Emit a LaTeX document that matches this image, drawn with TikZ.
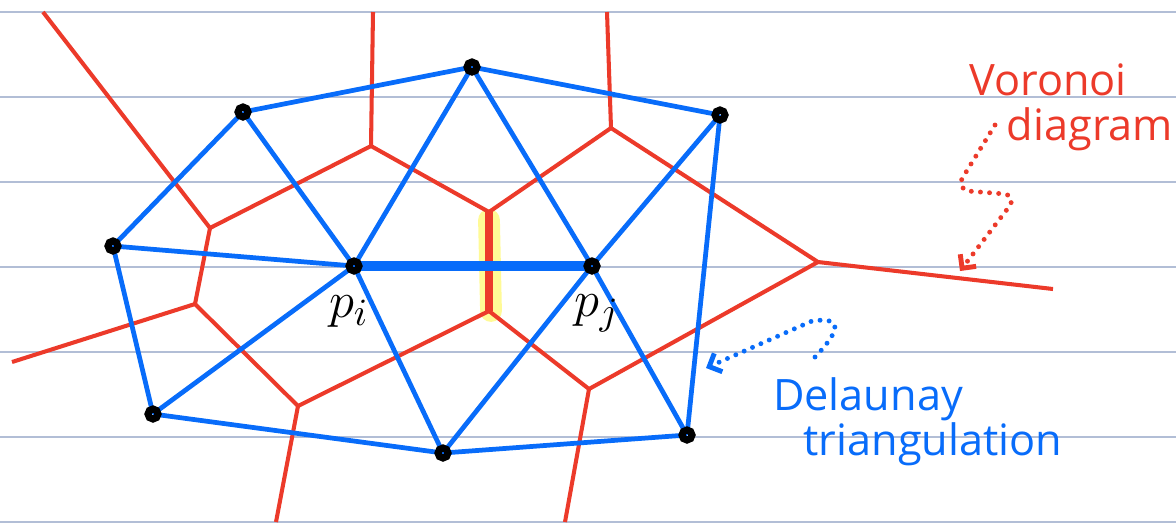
\documentclass[tikz,border=0pt]{standalone}
\usepackage{fontspec}
\setmainfont{Open Sans}
\usetikzlibrary{arrows.meta,positioning}

\definecolor{vorred}{RGB}{236,58,42}
\definecolor{delblue}{RGB}{8,108,250}
\definecolor{ruled}{RGB}{178,190,214}
\definecolor{marker}{RGB}{255,250,150}

\begin{document}
\begin{tikzpicture}[x=0.01cm, y=-0.01cm,
    rule/.style={draw=ruled, line width=0.45pt},
    vor/.style={draw=vorred, line width=1.15pt, line join=round},
    del/.style={draw=delblue, line width=1.35pt},
    site/.style={circle, draw=black, line width=2pt, inner sep=0pt, minimum size=0.1cm},
    lbl/.style={font=\fontsize{15}{17}\selectfont},
    hand/.style={font=\fontsize{12.3}{15}\selectfont, anchor=base},
    dots/.style={line width=1.4pt, line cap=round, dash pattern=on 0pt off 2.6pt},
    tip/.style={-{Straight Barb[length=0.1cm, width=0.2cm]}}
]
    \useasboundingbox (0,0) rectangle (1176,526);

    % ruled paper
    \foreach \y in {12,97,...,522}
        \draw[rule] (0,\y) -- (1176,\y);

    % sites
    \coordinate (pa) at (243,112);
    \coordinate (pb) at (113,246);
    \coordinate (pc) at (153,414);
    \coordinate (pi) at (354,266);
    \coordinate (pt) at (472,67);
    \coordinate (pu) at (720,115);
    \coordinate (pj) at (592,266);
    \coordinate (pd) at (443,453);
    \coordinate (pr) at (687,435);

    % Voronoi vertices and open ends
    \coordinate (v1) at (210,228);
    \coordinate (v2) at (195,304);
    \coordinate (v3) at (298,406);
    \coordinate (v4) at (371,146);
    \coordinate (v5) at (489,212);
    \coordinate (v6) at (489,311);
    \coordinate (v7) at (611,128);
    \coordinate (v8) at (589,389);
    \coordinate (v9) at (818,262);
    \coordinate (e1) at (43,12);
    \coordinate (e2) at (12,362);
    \coordinate (e3) at (276,522);
    \coordinate (e4) at (373,12);
    \coordinate (e5) at (607,12);
    \coordinate (e6) at (565,522);
    \coordinate (e7) at (1053,289);

    % highlighted dual edge
    \draw[marker, line width=6.2pt, line cap=round] ([yshift=-0.08cm]v5) -- ([xshift=0.02cm]v6);

    % Voronoi diagram
    \foreach \a/\b in {v1/e1, v1/v2, v1/v4, v2/e2, v2/v3, v3/e3, v3/v6, v4/e4,
                       v4/v5, v5/v7, v7/e5, v7/v9, v6/v8, v8/e6, v8/v9, v9/e7}
        \draw[vor] (\a) -- (\b);
    \draw[vor, line width=2.4pt] (v5) -- (v6);

    % Delaunay triangulation
    \foreach \a/\b in {pa/pt, pa/pb, pa/pi, pb/pi, pb/pc, pc/pi, pc/pd, pi/pt,
                       pi/pd, pt/pj, pt/pu, pu/pj, pu/pr, pj/pd, pj/pr, pd/pr}
        \draw[del] (\a) -- (\b);
    \draw[del, line width=2.8pt] (pi) -- (pj);

    \foreach \p in {pa,pb,pc,pi,pt,pu,pj,pd,pr}
        \node[site] (\p-dot) at (\p) {};

    \node[lbl] (lpi) at (349,312) {$p_i$};
    \node[lbl] (lpj) at (597,313) {$p_j$};

    % captions
    \node[hand, text=vorred] (vtxt) at (1048,95) {Voronoi};
    \node[hand, text=vorred] (dtxt) at (1090,140) {diagram};
    \node[hand, text=delblue] (dltxt) at (868,410) {Delaunay};
    \node[hand, text=delblue] (trtxt) at (933,455) {triangulation};

    \coordinate (rs) at (995,125);
    \coordinate (re) at (960,271);
    \draw[dots, vorred, tip, rounded corners=0.15cm] (rs) -- (955,190) -- (1018,195) -- (re);

    \coordinate (bs) at (815,357);
    \coordinate (be) at (706,368);
    \draw[dots, delblue, tip] (bs) .. controls (838,333) and (846,316) .. (812,321) -- (be);
\end{tikzpicture}
\end{document}
